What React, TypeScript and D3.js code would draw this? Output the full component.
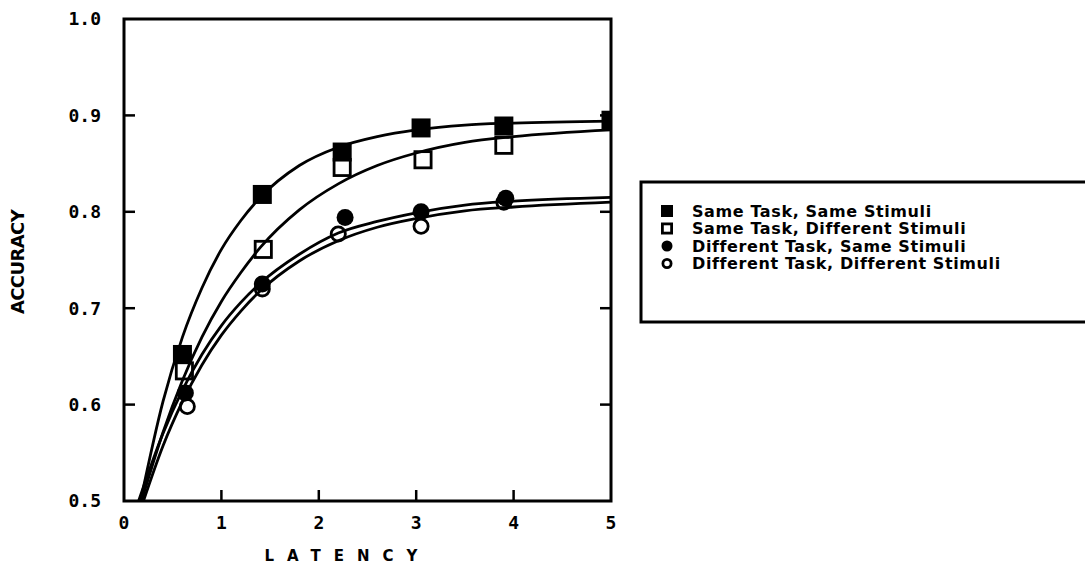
import * as d3 from "d3"

const sameSameLat = [0.6, 1.42, 2.24, 3.05, 3.9, 5.0]
const sameSameAcc = [0.652, 0.818, 0.862, 0.887, 0.889, 0.895]
const sameDiffLat = [0.62, 1.43, 2.24, 3.07, 3.9]
const sameDiffAcc = [0.635, 0.761, 0.846, 0.854, 0.869]
const diffSameLat = [0.63, 1.42, 2.27, 3.05, 3.92]
const diffSameAcc = [0.612, 0.725, 0.794, 0.8, 0.814]
const diffDiffLat = [0.65, 1.42, 2.2, 3.05, 3.9]
const diffDiffAcc = [0.598, 0.72, 0.777, 0.785, 0.81]

// fitted curves
const fitLat = [0.4, 0.6, 0.8, 1.0, 1.2, 1.4, 1.8, 2.2, 2.6, 3.0, 3.5, 4.0, 5.0]
const fitSameSame = [0.603, 0.67, 0.721, 0.761, 0.791, 0.815, 0.848, 0.867, 0.878, 0.885, 0.89, 0.892, 0.894]
const fitSameDiff = [0.571, 0.625, 0.67, 0.707, 0.737, 0.763, 0.802, 0.829, 0.848, 0.861, 0.872, 0.878, 0.885]
const fitDiffSame = [0.57, 0.615, 0.652, 0.682, 0.706, 0.726, 0.756, 0.778, 0.79, 0.799, 0.807, 0.811, 0.815]
const fitDiffDiff = [0.557, 0.603, 0.641, 0.672, 0.697, 0.718, 0.749, 0.77, 0.784, 0.793, 0.801, 0.805, 0.81]
const fitStart = [0.17, 0.18, 0.15, 0.2]

const legendLabels = [
  "Same Task, Same Stimuli",
  "Same Task, Different Stimuli",
  "Different Task, Same Stimuli",
  "Different Task, Different Stimuli",
]
const xTicks = [0, 1, 2, 3, 4, 5]
const yTicks = [0.5, 0.6, 0.7, 0.8, 0.9, 1.0]
const yTickLabels = ["0.5", "0.6", "0.7", "0.8", "0.9", "1.0"]

const W = 1085
const H = 576
const plot = { left: 124, right: 611, top: 19, bottom: 501 }

export default function App() {
  const x = d3.scaleLinear().domain([0, 5]).range([plot.left, plot.right])
  const y = d3.scaleLinear().domain([0.5, 1.0]).range([plot.bottom, plot.top])

  const line = d3
    .line<[number, number]>()
    .x(d => x(d[0]))
    .y(d => y(d[1]))
    .curve(d3.curveMonotoneX)

  const fits = [fitSameSame, fitSameDiff, fitDiffSame, fitDiffDiff].map((acc, i) => {
    const pts: [number, number][] = [[fitStart[i], 0.5]]
    fitLat.forEach((t, j) => pts.push([t, acc[j]]))
    return pts
  })

  const series = [
    { lat: sameSameLat, acc: sameSameAcc, shape: "square", filled: true },
    { lat: sameDiffLat, acc: sameDiffAcc, shape: "square", filled: false },
    { lat: diffSameLat, acc: diffSameAcc, shape: "circle", filled: true },
    { lat: diffDiffLat, acc: diffDiffAcc, shape: "circle", filled: false },
  ]

  const marker = (shape: string, filled: boolean, cx: number, cy: number, s: number, key: string) => {
    const sw = filled ? 0 : 2.8
    if (shape === "square") {
      const a = filled ? s : s - sw
      return (
        <rect key={key} x={cx - a / 2} y={cy - a / 2} width={a} height={a}
          fill={filled ? "#000" : "none"} stroke={filled ? "none" : "#000"} strokeWidth={sw} />
      )
    }
    const r = filled ? s / 2 : (s - sw) / 2
    return (
      <circle key={key} cx={cx} cy={cy} r={r}
        fill={filled ? "#000" : "none"} stroke={filled ? "none" : "#000"} strokeWidth={sw} />
    )
  }

  const monoFont = "'DejaVu Sans Mono', monospace"
  const sansFont = "'DejaVu Sans', sans-serif"

  return (
    <div style={{ position: "fixed", left: 0, top: 0 }}>
      <svg width={W} height={H} style={{ display: "block", background: "#fff" }}>
        <defs>
          <clipPath id="plotClip">
            <rect x={plot.left} y={plot.top} width={plot.right - plot.left} height={plot.bottom - plot.top} />
          </clipPath>
        </defs>

        {/* fitted curves and observed points */}
        <g clipPath="url(#plotClip)">
          {fits.map((pts, i) => (
            <path key={i} d={line(pts) || ""} fill="none" stroke="#000" strokeWidth={2.8} />
          ))}
          {series.map((s, i) =>
            s.lat.map((t, j) => marker(s.shape, s.filled, x(t), y(s.acc[j]), s.shape === "square" ? 19 : 17, `m${i}-${j}`))
          )}
        </g>

        {/* frame */}
        <rect x={plot.left} y={plot.top} width={plot.right - plot.left} height={plot.bottom - plot.top}
          fill="none" stroke="#000" strokeWidth={3} />

        {/* ticks, pointing inward */}
        {yTicks.slice(1, -1).map(v => (
          <g key={`yt${v}`}>
            <line x1={plot.left} x2={plot.left + 11} y1={y(v)} y2={y(v)} stroke="#000" strokeWidth={2.5} />
            <line x1={plot.right} x2={plot.right - 11} y1={y(v)} y2={y(v)} stroke="#000" strokeWidth={2.5} />
          </g>
        ))}
        {xTicks.slice(1, -1).map(v => (
          <line key={`xt${v}`} x1={x(v)} x2={x(v)} y1={plot.bottom} y2={plot.bottom - 11} stroke="#000" strokeWidth={2.5} />
        ))}

        {/* tick labels */}
        {yTicks.map((v, i) => (
          <text key={`yl${v}`} x={plot.left - 23} y={y(v)} dy="0.36em" textAnchor="end"
            fontFamily={monoFont} fontWeight="bold" fontSize={18}>
            {yTickLabels[i]}
          </text>
        ))}
        {xTicks.map(v => (
          <text key={`xl${v}`} x={x(v)} y={plot.bottom + 22} dy="0.36em" textAnchor="middle"
            fontFamily={monoFont} fontWeight="bold" fontSize={18}>
            {v}
          </text>
        ))}

        {/* axis titles */}
        <text x={(plot.left + plot.right) / 2 - 20} y={561} textAnchor="middle"
          fontFamily={sansFont} fontWeight="bold" fontSize={15} letterSpacing={13}>
          LATENCY
        </text>
        <text transform={`translate(24, ${(plot.top + plot.bottom) / 2 + 2}) rotate(-90)`} textAnchor="middle"
          fontFamily={sansFont} fontWeight="bold" fontSize={18} letterSpacing={-0.6}>
          ACCURACY
        </text>

        {/* legend */}
        <rect x={641} y={182} width={460} height={140} fill="none" stroke="#000" strokeWidth={3} />
        {legendLabels.map((label, i) => {
          const cy = 211 + i * 17.5
          return (
            <g key={label}>
              {marker(series[i].shape, series[i].filled, 667, cy, series[i].shape === "square" ? 12 : 11, `lg${i}`)}
              <text x={692} y={cy} dy="0.36em" fontFamily={sansFont} fontWeight="bold" fontSize={16} letterSpacing={0.6}>
                {label}
              </text>
            </g>
          )
        })}
      </svg>
    </div>
  )
}
